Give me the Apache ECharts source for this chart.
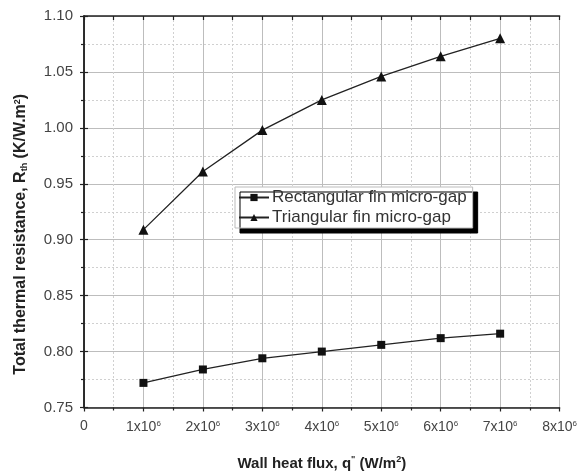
<!DOCTYPE html>
<html>
<head>
<meta charset="utf-8">
<script src="https://cdn.jsdelivr.net/npm/echarts@6/dist/echarts.min.js"></script>
<style>
  html, body { margin: 0; padding: 0; background: #fff; }
  #chart { width: 580px; height: 476px; }
</style>
</head>
<body>
<div id="chart"></div>
<script>
// Wall heat flux (W/m²)
const heatFlux = [1e6, 2e6, 3e6, 4e6, 5e6, 6e6, 7e6];
// Total thermal resistance (K/W.m²)
const rectangularFin = [0.772, 0.784, 0.794, 0.800, 0.806, 0.812, 0.816];
const triangularFin = [0.909, 0.961, 0.998, 1.025, 1.046, 1.064, 1.080];
const seriesNames = ['Rectangular fin micro-gap', 'Triangular fin micro-gap'];

const FONT = 'Liberation Sans, Arial, sans-serif';
const INK = '#222';

const chart = echarts.init(document.getElementById('chart'));

function pairs(ys) {
  return heatFlux.map((x, i) => [x, ys[i]]);
}

function xLabel(v) {
  if (v === 0) return '{n|0}';
  return '{n|' + Math.round(v / 1e6) + 'x10}{s|6}';
}

const axisLine = { show: true, lineStyle: { color: INK, width: 1.5 } };
const tickStyle = { color: INK, width: 1.2 };

chart.setOption({
  animation: false,
  backgroundColor: '#fff',
  grid: { left: 84, right: 19, top: 16, bottom: 66 },
  legend: {
    orient: 'vertical',
    left: 235,
    top: 187,
    itemGap: 3,
    itemWidth: 30,
    itemHeight: 9,
    padding: [2, 6, 2, 3],
    backgroundColor: '#fff',
    borderColor: '#bbb',
    borderWidth: 1,
    shadowColor: '#000',
    shadowBlur: 0,
    shadowOffsetX: 5,
    shadowOffsetY: 5,
    textStyle: { fontFamily: FONT, fontSize: 17, color: '#333', padding: [0, 0, 0, -2] },
    data: seriesNames
  },
  xAxis: [
    {
      type: 'value',
      min: 0,
      max: 8e6,
      interval: 1e6,
      name: 'Wall heat flux, q{s|"} (W/m{s|2})',
      nameLocation: 'middle',
      nameGap: 48,
      nameTextStyle: {
        fontFamily: FONT, fontSize: 15, fontWeight: 'bold', color: INK,
        rich: { s: { fontSize: 9, fontWeight: 'bold', verticalAlign: 'top', padding: [0, 0, 7, 0], fontFamily: FONT, color: INK } }
      },
      axisLine: axisLine,
      axisTick: { show: true, inside: false, length: 4, lineStyle: tickStyle },
      minorTick: { show: true, splitNumber: 2, length: 3, lineStyle: tickStyle },
      splitLine: { show: true, lineStyle: { color: '#bdbdbd', width: 1 } },
      minorSplitLine: { show: true, lineStyle: { color: '#d0d0d0', width: 1, type: [2, 2] } },
      axisLabel: {
        margin: 12,
        formatter: xLabel,
        rich: {
          n: { fontFamily: FONT, fontSize: 14, color: '#444' },
          s: { fontFamily: FONT, fontSize: 8, color: '#444', verticalAlign: 'top', padding: [0, 0, 8, 0] }
        }
      }
    },
    {
      type: 'value',
      position: 'top',
      min: 0,
      max: 8e6,
      interval: 1e6,
      axisLine: axisLine,
      axisTick: { show: true, inside: true, length: 4, lineStyle: tickStyle },
      minorTick: { show: true, splitNumber: 2, length: 4, lineStyle: tickStyle },
      splitLine: { show: false },
      axisLabel: { show: false }
    }
  ],
  yAxis: [
    {
      type: 'value',
      min: 0.75,
      max: 1.10,
      interval: 0.05,
      name: 'Total thermal resistance, R{b|th} (K/W.m{t|2})',
      nameLocation: 'middle',
      nameGap: 55,
      nameTextStyle: {
        fontFamily: FONT, fontSize: 16, fontWeight: 'bold', color: INK,
        padding: [0, 45, 0, 0],
        rich: {
          b: { fontSize: 9, fontWeight: 'bold', verticalAlign: 'bottom', padding: [7, 0, 0, 0], fontFamily: FONT, color: INK },
          t: { fontSize: 9, fontWeight: 'bold', verticalAlign: 'top', padding: [0, 0, 7, 0], fontFamily: FONT, color: INK }
        }
      },
      axisLine: axisLine,
      axisTick: { show: true, inside: false, length: 4, lineStyle: tickStyle },
      minorTick: { show: true, splitNumber: 2, length: 3, lineStyle: tickStyle },
      splitLine: { show: true, lineStyle: { color: '#bdbdbd', width: 1 } },
      minorSplitLine: { show: true, lineStyle: { color: '#d0d0d0', width: 1, type: [2, 2] } },
      axisLabel: {
        margin: 11,
        fontFamily: FONT, fontSize: 15, color: '#444',
        formatter: v => v.toFixed(2)
      }
    },
    {
      type: 'value',
      position: 'right',
      min: 0.75,
      max: 1.10,
      interval: 0.05,
      axisLine: axisLine,
      axisTick: { show: true, inside: false, length: 4, lineStyle: tickStyle },
      splitLine: { show: false },
      axisLabel: { show: false }
    }
  ],
  series: [
    {
      name: seriesNames[0],
      type: 'line',
      data: pairs(rectangularFin),
      symbol: 'rect',
      symbolSize: 8,
      lineStyle: { color: INK, width: 1.3 },
      itemStyle: { color: '#111' }
    },
    {
      name: seriesNames[1],
      type: 'line',
      data: pairs(triangularFin),
      symbol: 'triangle',
      symbolSize: 10,
      lineStyle: { color: INK, width: 1.3 },
      itemStyle: { color: '#111' }
    }
  ]
});
</script>
</body>
</html>
